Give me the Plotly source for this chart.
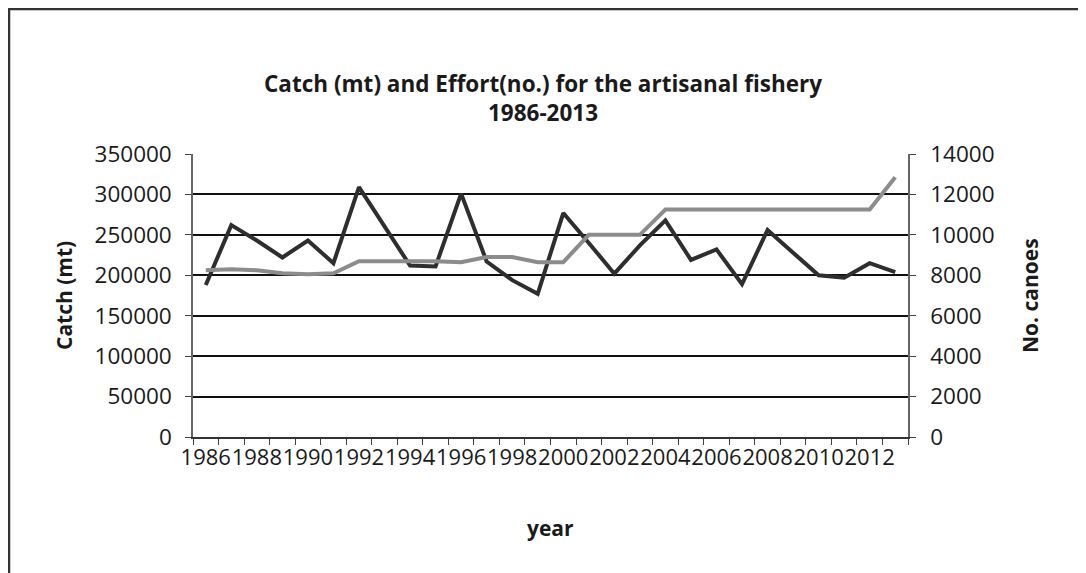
import plotly.graph_objects as go

years = list(range(1986, 2014))
catch_mt = [188000, 262000, 243000, 222000, 243000, 215000, 309000, 260000, 212000, 211000,
            301000, 217000, 194000, 177000, 277000, 240000, 202000, 237000, 268000, 219000,
            232000, 189000, 256000, 228000, 200000, 197000, 215000, 204000]
canoes = [8250, 8300, 8250, 8100, 8050, 8100, 8700, 8700, 8700, 8700,
          8650, 8900, 8900, 8650, 8650, 10000, 10000, 10000, 11250, 11250,
          11250, 11250, 11250, 11250, 11250, 11250, 11250, 12850]
x_tick_years = list(range(1986, 2013, 2))
x_tick_text = [str(y) for y in x_tick_years]
left_ticks = list(range(0, 350001, 50000))
right_ticks = list(range(0, 14001, 2000))

FONT = "Open Sans"
TXT = "#1a1a1a"
OFF = 8  # page body margin offset

fig = go.Figure()
fig.add_trace(go.Scatter(x=years, y=canoes, yaxis="y2", mode="lines",
                         line=dict(color="#8c8c8c", width=4), name="No. canoes"))
fig.add_trace(go.Scatter(x=years, y=catch_mt, yaxis="y", mode="lines",
                         line=dict(color="#2e2e2e", width=4), name="Catch (mt)"))

W, H = 1086 - OFF, 573 - OFF
L, R, T, B = 193 - OFF, 908 - OFF, 154 - OFF, 437 - OFF
pw, ph = R - L, B - T

def px(x):
    return (x - OFF - L) / pw

def py(y):
    return (B - (y - OFF)) / ph

fig.update_layout(
    width=W, height=H,
    margin=dict(l=L, r=W - R, t=T, b=H - B, pad=0),
    paper_bgcolor="white", plot_bgcolor="white",
    showlegend=False,
    font=dict(family=FONT, color=TXT, size=22),
    xaxis=dict(range=[1985.5, 2013.5], tickmode="array", tickvals=x_tick_years,
               ticktext=x_tick_text, ticks="", showgrid=False, zeroline=False,
               showline=True, linecolor="#333", linewidth=1.5, tickangle=0,
               tickfont=dict(size=22, family=FONT, color=TXT),
               ticklabelstandoff=0,
               minor=dict(tick0=1985.5, dtick=1, ticks="outside", ticklen=6,
                          tickcolor="#444", tickwidth=1, showgrid=False)),
    yaxis=dict(range=[0, 350000], tickmode="array", tickvals=left_ticks,
               ticktext=[str(v) for v in left_ticks], showgrid=True,
               gridcolor="#111", gridwidth=1.5, zeroline=False,
               showline=True, linecolor="#666", linewidth=1.5,
               ticks="outside", ticklen=6, tickcolor="#444",
               ticklabelstandoff=9,
               tickfont=dict(size=22.5, family=FONT, color=TXT)),
    yaxis2=dict(range=[0, 14000], tickmode="array", tickvals=right_ticks,
                ticktext=[str(v) for v in right_ticks], overlaying="y", side="right",
                showgrid=False, zeroline=False, showline=True, linecolor="#666",
                linewidth=1.5, ticks="outside", ticklen=6, tickcolor="#444",
                ticklabelstandoff=10,
                tickfont=dict(size=22.5, family=FONT, color=TXT)),
)

# chart border (top and left edges visible in the scan)
fig.add_shape(type="line", xref="paper", yref="paper", x0=px(8), x1=px(1090),
              y0=py(9), y1=py(9), line=dict(color="#333", width=2.5))
fig.add_shape(type="line", xref="paper", yref="paper", x0=px(9), x1=px(9),
              y0=py(8), y1=py(580), line=dict(color="#333", width=2.5))

common = dict(xref="paper", yref="paper", showarrow=False, xanchor="center", yanchor="middle")
fig.add_annotation(text="<b>Catch (mt) and Effort(no.) for the artisanal fishery<br>1986-2013</b>",
                   x=px(543), y=py(98), align="center",
                   font=dict(size=22.5, family=FONT, color=TXT), **common)
fig.add_annotation(text="<b>Catch (mt)</b>", x=px(64), y=py(296), textangle=-90,
                   font=dict(size=21, family=FONT, color=TXT), **common)
fig.add_annotation(text="<b>No. canoes</b>", x=px(1030), y=py(296), textangle=-90,
                   font=dict(size=21, family=FONT, color=TXT), **common)
fig.add_annotation(text="<b>year</b>", x=px(550), y=py(528),
                   font=dict(size=21, family=FONT, color=TXT), **common)

fig.write_html("out.html")
